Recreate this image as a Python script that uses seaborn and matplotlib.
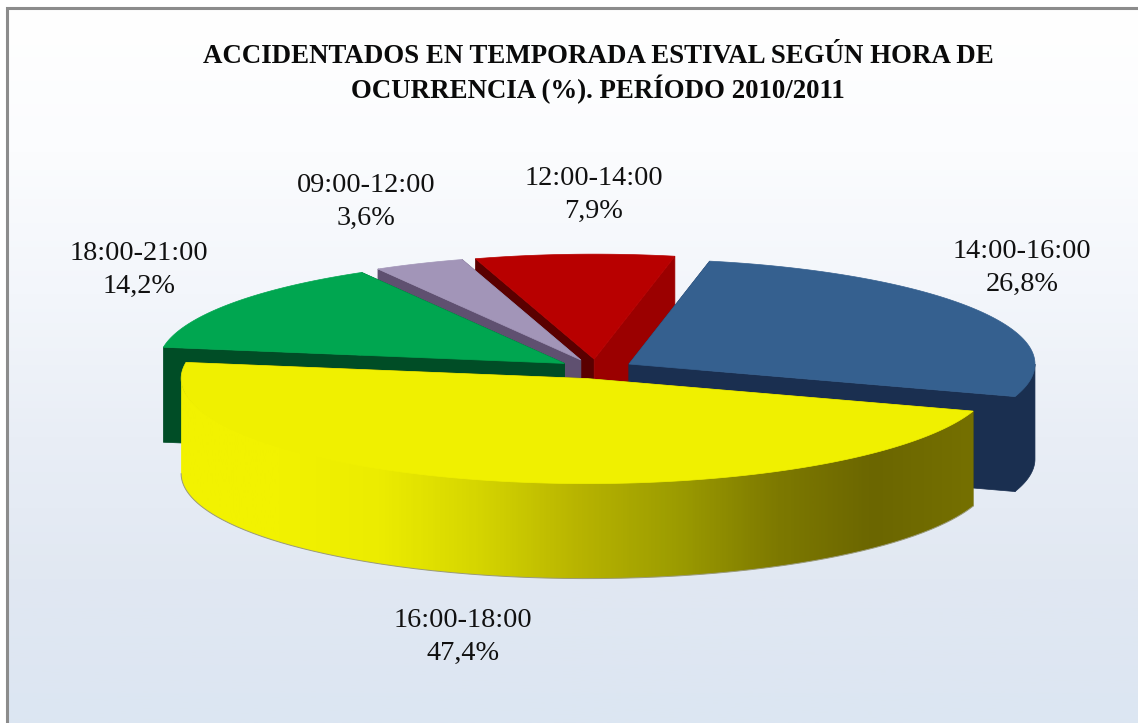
import numpy as np
import matplotlib
matplotlib.use("Agg")
import matplotlib.pyplot as plt
from matplotlib.patches import Polygon
import seaborn as sns

sns.set_theme(style="white")
plt.rcParams['font.family'] = ['Liberation Serif', 'DejaVu Serif']

#Chart data, clockwise from the first slice
hours = ["12:00-14:00", "14:00-16:00", "16:00-18:00", "18:00-21:00", "09:00-12:00"]
percent = [7.9, 26.8, 47.4, 14.2, 3.6]
title = "ACCIDENTADOS EN TEMPORADA ESTIVAL SEGÚN HORA DE\nOCURRENCIA (%). PERÍODO 2010/2011"

#Pie geometry in pixels
W, H = 1138, 723
cx, cy = 596, 369		#Centre of the unexploded pie
rx, ry = 406, 105		#Ellipse radii of the top face
depth = 95				#Thickness of the pie
explode = 0.094			#Slice offset as a fraction of the radius
start = -17				#Start angle, degrees clockwise from north

#Top, left face, right face and rim colours per slice
top_col = ["#b80000", "#35608f", "#f0f000", "#00a650", "#a295b8"]
left_col = ["#5a0000", "#1a2f50", "#6b6600", "#004d26", "#5f5070"]
right_col = ["#9b0000", "#1a2f50", "#6b6600", "#004d26", "#5f5070"]
rim_col = [["#9b0000"], ["#1a2f50"],
	["#f2f200", "#f2f200", "#ecec00", "#d5d500", "#b8b400", "#9c9c00", "#7e7a00", "#6b6600", "#757000"],
	["#004d26"], ["#5f5070"]]

#Label centres, in the order of hours
label_x = [594, 1022, 463, 139, 366]
label_y = [195, 268, 637, 270, 202]
draw_order = [0, 4, 3, 1, 2]

def point(t, mid, r=1.0):
	t, mid = np.radians(t), np.radians(mid)
	x = cx + rx*(explode*np.sin(mid) + r*np.sin(t))
	y = cy - ry*(explode*np.cos(mid) + r*np.cos(t))
	return x, y

def drawSlice(ax, i, z, t0, t1):
	mid = (t0 + t1)/2
	apex = point(0, mid, 0)
	first = point(t0, mid)
	last = point(t1, mid)

	#Radial walls
	for edge, col in ((first, left_col[i]), (last, right_col[i])):
		wall = [apex, edge, (edge[0], edge[1]+depth), (apex[0], apex[1]+depth)]
		ax.add_patch(Polygon(wall, fc=col, ec=col, lw=0.5, zorder=z))

	#Outer rim, only the part that faces the viewer
	a, b = max(t0, 90), min(t1, 270)
	if b > a:
		angles = np.linspace(a, b, 300)
		xs, ys = point(angles, mid)
		tuck = 3*np.sin(np.linspace(0, np.pi, 300))		#Upper edge goes under the top face, so no seam shows
		outline = list(zip(xs, ys - tuck)) + list(zip(xs[::-1], ys[::-1] + depth))
		if len(rim_col[i]) > 1:
			#Shaded rim: a horizontal colour ramp clipped to the rim shape
			ramp = np.array(sns.blend_palette(rim_col[i], n_colors=400))
			im = ax.imshow(ramp[None, :, :], extent=(xs.min(), xs.max(), H, 0), aspect='auto', zorder=z+0.1)
			shape = Polygon(outline, fc='none', ec='none', transform=ax.transData)
			ax.add_patch(shape)
			im.set_clip_path(shape)
			ax.plot(xs, ys + depth, color="#9a9a7a", lw=0.7, zorder=z+0.15)
		else:
			ax.add_patch(Polygon(outline, fc=rim_col[i][0], ec=rim_col[i][0], lw=0.5, zorder=z+0.1))

	#Top face
	angles = np.linspace(t0, t1, 200)
	xs, ys = point(angles, mid)
	outline = [apex] + list(zip(xs, ys))
	ax.add_patch(Polygon(outline, fc=top_col[i], ec=top_col[i], lw=0.5, zorder=z+0.2))

fig = plt.figure(figsize=(W/100, H/100), dpi=100)
ax = fig.add_axes([0, 0, 1, 1])

#Panel background
grad = np.array(sns.blend_palette(["#ffffff", "#fbfcfe", "#f3f6fb", "#e9eef6", "#e1e8f2", "#dce6f2"], n_colors=256))
ax.imshow(grad[:, None, :], extent=(7, W, H, 8), aspect='auto', zorder=0)
ax.plot([7, 7, W], [H, 8, 8], color="#8c8c8c", lw=2.2, solid_joinstyle='miter', zorder=1)

#Slices
sweep = np.array(percent)/np.sum(percent)*360
edges = start + np.concatenate(([0], np.cumsum(sweep)))
for n, i in enumerate(draw_order):
	drawSlice(ax, i, 2 + n, edges[i], edges[i+1])

ax.set_xlim(0, W)
ax.set_ylim(H, 0)
ax.axis('off')

#Texts
for i in range(len(hours)):
	text = hours[i] + "\n" + f"{percent[i]:.1f}%".replace(".", ",")
	ax.text(label_x[i], label_y[i], text, ha='center', va='center', fontsize=20.3,
		linespacing=1.4, color="#111111", zorder=20)
ax.text(598, 74, title, ha='center', va='center', fontsize=19.4, fontweight='bold',
	linespacing=1.24, color="#0a0a0a", zorder=20)

fig.savefig("out.png", dpi=100)
